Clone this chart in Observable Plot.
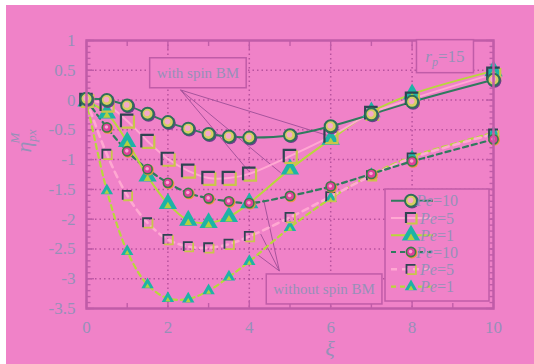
<!DOCTYPE html>
<html><head><meta charset="utf-8">
<script src="https://cdn.jsdelivr.net/npm/d3@7"></script>
<script src="https://cdn.jsdelivr.net/npm/@observablehq/plot@0.6"></script>
<style>
html,body{margin:0;padding:0;background:#fff;}
#chart{position:absolute;left:6px;top:5px;width:528px;height:359px;background:#f082c8;}
#chart svg{display:block;}
</style></head><body><div id="chart"></div>
<script>
// ---- data ----
const xi = [0, 0.5, 1, 1.5, 2, 2.5, 3, 3.5, 4, 5, 6, 7, 8, 10];
const spinPe10 = [0.02, 0.0, -0.09, -0.23, -0.37, -0.48, -0.57, -0.61, -0.63, -0.59, -0.44, -0.24, -0.03, 0.34];
const spinPe5 = [0.0, -0.08, -0.35, -0.69, -0.99, -1.19, -1.31, -1.31, -1.24, -0.94, -0.61, -0.22, 0.02, 0.44];
const spinPe1 = [-0.02, -0.22, -0.70, -1.28, -1.74, -2.02, -2.06, -1.96, -1.73, -1.16, -0.66, -0.20, 0.10, 0.49];
const noSpinPe10 = [0.0, -0.46, -0.86, -1.16, -1.39, -1.56, -1.65, -1.70, -1.73, -1.61, -1.45, -1.24, -1.03, -0.66];
const noSpinPe5 = [0.0, -0.91, -1.60, -2.06, -2.34, -2.46, -2.48, -2.42, -2.29, -1.97, -1.62, -1.27, -0.97, -0.57];
const noSpinPe1 = [0.0, -1.52, -2.54, -3.10, -3.33, -3.34, -3.20, -2.97, -2.71, -2.14, -1.65, -1.25, -0.95, -0.55];
const peLabels = ["10", "5", "1", "10", "5", "1"];
const yTicks = [1, 0.5, 0, -0.5, -1, -1.5, -2, -2.5, -3, -3.5];
const xTicks = [0, 2, 4, 6, 8, 10];
const xMinorTicks = [1, 3, 5, 7, 9];
const yMinorTicks = d3.range(-35, 11).map(d => d / 10);
const xGrid = [2, 4, 6, 8];
const yGrid = [0.5, 0, -0.5, -1, -1.5, -2, -2.5, -3];
const noteTexts = ["with spin BM", "without spin BM"];

// ---- styles ----
const BG = "#f082c8", FRAME = "#c05ca8", GRID = "#b8529e", TXT = "#9690b8";
const GREEN = "#2f7a5e", PINK = "#ffa8d2", LIME = "#b8d83a", TEAL = "#1db3a6", YEL = "#b4d040";
const cornerTL = {draw(c, s) { const h = Math.sqrt(s) / 2; c.moveTo(-h, h); c.lineTo(-h, -h); c.lineTo(h, -h); }};
const cornerBR = {draw(c, s) { const h = Math.sqrt(s) / 2; c.moveTo(h, -h); c.lineTo(h, h); c.lineTo(-h, h); }};
const sq = side => side / Math.sqrt(Math.PI);
const markerStyles = {
  circBig: [
    {symbol: "circle", r: 6.9, fill: "#6b3f8c", dx: 1, dy: 1},
    {symbol: "circle", r: 6, fill: "#d6cf62", stroke: "#2f6f58", sw: 2},
    {symbol: "circle", r: 2.8, fill: "#f4a8cc", dx: -0.5, dy: -0.5}
  ],
  circSmall: [
    {symbol: "circle", r: 5.6, fill: "#e89a38", dx: 0.8, dy: 0.8},
    {symbol: "circle", r: 4.6, fill: "#e0409a", stroke: "#3a7a4a", sw: 1.6},
    {symbol: "circle", r: 1.8, fill: "#f7a4d2", dx: -0.4, dy: -0.4}
  ],
  sqBig: [
    {symbol: cornerBR, r: sq(12.5), stroke: "#c9c64a", sw: 2.2, dx: 0.5, dy: 0.5},
    {symbol: cornerTL, r: sq(12.5), stroke: "#2e4452", sw: 2.2}
  ],
  sqSmall: [
    {symbol: cornerBR, r: sq(9), stroke: "#c9c64a", sw: 1.8, dx: 0.4, dy: 0.4},
    {symbol: cornerTL, r: sq(9), stroke: "#2e4452", sw: 1.8}
  ],
  triBig: [
    {symbol: "triangle", r: 6.8, fill: TEAL},
    {symbol: "triangle", r: 2.8, fill: YEL, dy: 2.5}
  ],
  triSmall: [
    {symbol: "triangle", r: 4.6, fill: TEAL},
    {symbol: "triangle", r: 1.9, fill: YEL, dy: 1.7}
  ]
};
const seriesDefs = [
  {values: spinPe10, stroke: GREEN, width: 2, dash: null, marker: "circBig"},
  {values: spinPe5, stroke: PINK, width: 2, dash: null, marker: "sqBig"},
  {values: spinPe1, stroke: LIME, width: 2, dash: null, marker: "triBig"},
  {values: noSpinPe10, stroke: GREEN, width: 2.2, dash: "5,4", marker: "circSmall"},
  {values: noSpinPe5, stroke: PINK, width: 2.6, dash: "6,5", marker: "sqSmall"},
  {values: noSpinPe1, stroke: LIME, width: 2.2, dash: "5,4", marker: "triSmall"}
];
const rows = seriesDefs.map(s => xi.map((x, i) => ({x, y: s.values[i]})));

function markerMarks(data, layers) {
  return layers.map(L => Plot.dot(data, {
    x: "x", y: "y", symbol: L.symbol, r: L.r,
    fill: L.fill || "none", stroke: L.stroke || "none", strokeWidth: L.sw || 1,
    dx: L.dx || 0, dy: L.dy || 0
  }));
}

// annotation anchors (data space)
const notes = [
  {text: noteTexts[0], x: 2.75, y: 0.45},
  {text: noteTexts[1], x: 5.85, y: -3.18}
];
const fans = [
  {x1: 2.31, y1: 0.17, x2: 3.98, y2: -1.19},
  {x1: 2.31, y1: 0.17, x2: 4.77, y2: -1.22},
  {x1: 2.31, y1: 0.17, x2: 5.95, y2: -0.60},
  {x1: 4.74, y1: -2.87, x2: 4.35, y2: -1.67},
  {x1: 4.74, y1: -2.87, x2: 4.28, y2: -2.25},
  {x1: 4.74, y1: -2.87, x2: 4.19, y2: -2.59}
];

const tickAxis = (fn, ticks, anchor, size) => fn(ticks, {anchor, tickSize: size, tickFormat: () => "", label: null, stroke: FRAME, strokeWidth: 1.4});
const drawOrder = [5, 4, 3, 2, 1, 0];
const markOrder = [5, 2, 4, 1, 3, 0];

const chart = Plot.plot({
  width: 528, height: 359,
  marginLeft: 80, marginRight: 41, marginTop: 35, marginBottom: 56,
  x: {domain: [0, 10]},
  y: {domain: [-3.5, 1]},
  style: {background: "transparent", fontFamily: "'Liberation Serif', 'Times New Roman', serif", fontSize: "17px", color: TXT, overflow: "visible"},
  marks: [
    Plot.gridX(xGrid, {stroke: GRID, strokeOpacity: 1, strokeWidth: 1.5, strokeDasharray: "1.5,3"}),
    Plot.gridY(yGrid, {stroke: GRID, strokeOpacity: 1, strokeWidth: 1.5, strokeDasharray: "1.5,3"}),
    Plot.axisX(xTicks, {anchor: "bottom", tickSize: 0, tickPadding: 12, tickFormat: d => String(d), label: null, fill: TXT}),
    Plot.axisY(yTicks, {anchor: "left", tickSize: 0, tickPadding: 11, tickFormat: d => String(d), label: null, fill: TXT}),
    tickAxis(Plot.axisX, xTicks, "bottom", -8),
    tickAxis(Plot.axisX, xMinorTicks, "bottom", -5),
    tickAxis(Plot.axisX, xTicks, "top", -8),
    tickAxis(Plot.axisX, xMinorTicks, "top", -5),
    tickAxis(Plot.axisY, yTicks, "left", -8),
    tickAxis(Plot.axisY, yMinorTicks, "left", -4.5),
    tickAxis(Plot.axisY, yTicks, "right", -8),
    tickAxis(Plot.axisY, yMinorTicks, "right", -4.5),
    Plot.link(fans, {x1: "x1", y1: "y1", x2: "x2", y2: "y2", stroke: "#a6549c", strokeWidth: 1}),
    ...drawOrder.map(i => Plot.line(rows[i], {x: "x", y: "y", curve: "catmull-rom", stroke: seriesDefs[i].stroke, strokeWidth: seriesDefs[i].width, strokeDasharray: seriesDefs[i].dash})),
    ...markOrder.flatMap(i => markerMarks(rows[i], markerStyles[seriesDefs[i].marker])),
    Plot.frame({stroke: FRAME, strokeWidth: 2.5})
  ]
});
document.getElementById("chart").appendChild(chart);

const svg = d3.select(chart);
const sx = chart.scale("x"), sy = chart.scale("y");
const serif = "'Liberation Serif', 'Times New Roman', serif";

// boxed annotations
notes.forEach(n => {
  const g = svg.append("g");
  const t = g.append("text").attr("x", sx.apply(n.x)).attr("y", sy.apply(n.y)).attr("dy", "0.33em")
    .attr("text-anchor", "middle").attr("font-family", serif).attr("font-size", 15).attr("fill", TXT).text(n.text);
  const bb = t.node().getBBox();
  g.insert("rect", "text").attr("x", bb.x - 7).attr("y", sy.apply(n.y) - 15).attr("width", bb.width + 14).attr("height", 30)
    .attr("fill", BG).attr("stroke", FRAME).attr("stroke-width", 1.5);
});

// r_p = 15 box
{
  const cx = sx.apply(8.82), cy = sy.apply(0.72);
  const g = svg.append("g");
  g.append("rect").attr("x", cx - 28.5).attr("y", cy - 17).attr("width", 57).attr("height", 33)
    .attr("fill", BG).attr("stroke", FRAME).attr("stroke-width", 1.5);
  const t = g.append("text").attr("x", cx).attr("y", cy + 5).attr("text-anchor", "middle")
    .attr("font-family", serif).attr("font-size", 17).attr("fill", TXT);
  t.append("tspan").attr("font-style", "italic").text("r");
  t.append("tspan").attr("font-style", "italic").attr("font-size", 12).attr("dy", 4).text("p");
  t.append("tspan").attr("dy", -4).text("=15");
}

// legend
{
  const g = svg.append("g");
  g.append("rect").attr("x", 379).attr("y", 184).attr("width", 104).attr("height", 112)
    .attr("fill", BG).attr("stroke", FRAME).attr("stroke-width", 1.5);
  const rowY = [195.7, 213, 230.3, 247, 264.3, 281.7];
  seriesDefs.forEach((s, i) => {
    const y = rowY[i];
    g.append("line").attr("x1", 385).attr("x2", 427).attr("y1", y).attr("y2", y)
      .attr("stroke", s.stroke).attr("stroke-width", s.width).attr("stroke-dasharray", s.dash);
    markerStyles[s.marker].forEach(L => {
      const sym = typeof L.symbol === "string" ? (L.symbol === "circle" ? d3.symbolCircle : d3.symbolTriangle) : L.symbol;
      const k = (s.marker === "sqBig") ? 0.8 : 1;
      g.append("path").attr("d", d3.symbol(sym, Math.PI * L.r * L.r * k * k)())
        .attr("transform", `translate(${405 + (L.dx || 0)},${y + (L.dy || 0)})`)
        .attr("fill", L.fill || "none").attr("stroke", L.stroke || "none").attr("stroke-width", L.sw || 1);
    });
    const t = g.append("text").attr("x", 431).attr("y", y + 5.5).attr("font-family", serif).attr("font-size", 16).attr("fill", TXT);
    t.append("tspan").attr("font-style", "italic").text("Pe");
    t.append("tspan").text("=" + peLabels[i]);
  });
}

// axis titles
{
  const t = svg.append("text").attr("transform", "translate(25,136) rotate(-90)")
    .attr("font-family", serif).attr("font-size", 22).attr("fill", TXT).attr("font-style", "italic");
  t.append("tspan").text("η");
  t.append("tspan").attr("font-size", 13).attr("dy", 5).text("px");
  t.append("tspan").attr("font-size", 13).attr("dx", -14).attr("dy", -17).text("M");
  svg.append("text").attr("x", 324).attr("y", 351).attr("text-anchor", "middle")
    .attr("font-family", serif).attr("font-size", 22).attr("font-style", "italic").attr("fill", TXT).text("ξ");
}
</script></body></html>
